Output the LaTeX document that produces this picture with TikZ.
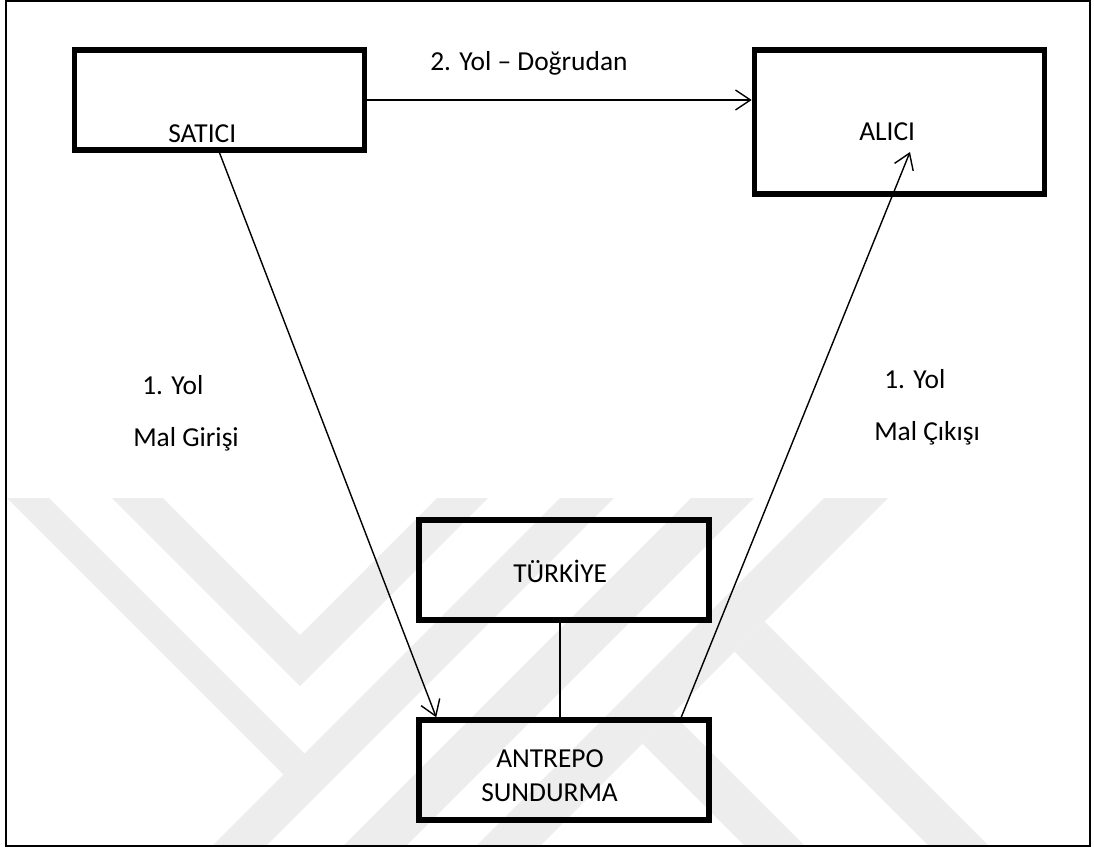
\documentclass[tikz,border=0pt]{standalone}
\usepackage{fontspec}
\setmainfont{Carlito}
\usetikzlibrary{arrows.meta,calc}

\begin{document}
\begin{tikzpicture}[x=0.025cm, y=-0.025cm,
    box/.style={draw, line width=3.9pt, minimum width=7.25cm, minimum height=2.5cm, inner sep=0pt},
    txt/.style={inner sep=0pt, anchor=base west, font=\fontsize{19.5}{23}\selectfont},
    flow/.style={line width=1pt, -{Straight Barb[length=3.75mm, width=5mm]}},
    wmark/.style={fill=black!7, draw=none}]

    \useasboundingbox (0,0) rectangle (1094,851);

    % Watermark in the background
    \begin{scope}
        \clip (7,498) rectangle (1089,845);
        \fill[wmark] (7,498) -- (49,498) -- (304.5,753.5) -- (560,498) -- (614,498)
            -- (264,848) -- (210,848) -- (283.5,774.5) -- cycle;
        \fill[wmark] (112,498) -- (163,498) -- (300,635) -- (437,498) -- (488,498) -- (300,686) -- cycle;
        \fill[wmark] (691,498) -- (754,498) -- (404,848) -- (341,848) -- cycle;
        \fill[wmark] (824,498) -- (888,498) -- (538,848) -- (474,848) -- cycle;
        \fill[wmark] (734.5,651.5) -- (764.5,621.5) -- (991,848) -- (931,848) -- cycle;
        \fill[wmark] (642.5,743.5) -- (672.5,713.5) -- (807,848) -- (747,848) -- cycle;
    \end{scope}

    % Outer frame
    \draw[line width=1.4pt] (6,1) rectangle (1090,846);

    % The boxes
    \node[box] (satici) at (219.5,100) {};
    \node[box, minimum height=3.6cm] (alici) at (899.5,122) {};
    \node[box] (turkiye) at (564,570) {};
    \node[box] (antrepo) at (564,770) {};

    % Texts in the boxes
    \node[txt] (satici-t) at (168,142) {SATICI};
    \node[txt] (alici-t) at (859,140) {ALICI};
    \node[txt] (turkiye-t) at (513,582) {TÜRKİYE};
    \node[txt] (antrepo-t) at (496,767) {ANTREPO};
    \node[txt] (sundurma-t) at (481,801) {SUNDURMA};

    % Labels of the ways
    \node[txt] (yol2) at (430,70) {2. Yol – Doğrudan};
    \node[txt] (yol1-in) at (142,394) {1. Yol};
    \node[txt] (giris) at (133,446) {Mal Girişi};
    \node[txt] (yol1-out) at (884,388) {1. Yol};
    \node[txt] (cikis) at (874,440) {Mal Çıkışı};

    % Arrows
    \coordinate (alici-in) at (910,152);
    \draw[flow] (satici.east) -- (satici.east -| alici.west);
    \draw[flow] (satici.south) -- ($(antrepo.north west)+(20,0)$);
    \draw[flow] ($(antrepo.north west)+(265,0)$) -- (alici-in);
    \draw[line width=1pt] ([xshift=-0.1cm]turkiye.south) -- ([xshift=-0.1cm]antrepo.north);
\end{tikzpicture}
\end{document}
